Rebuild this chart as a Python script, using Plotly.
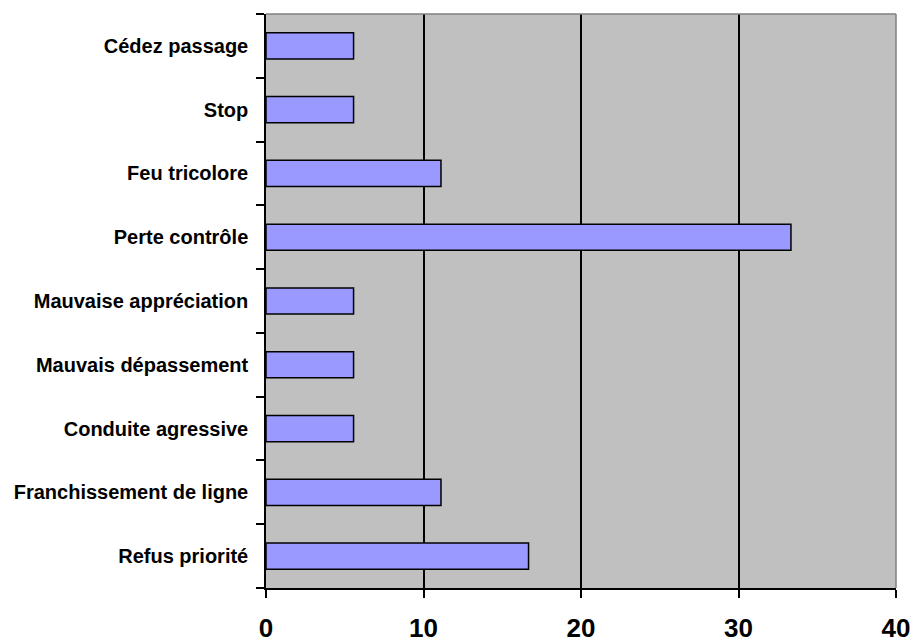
import plotly.graph_objects as go

categories = ["Refus priorité", "Franchissement de ligne", "Conduite agressive",
              "Mauvais dépassement", "Mauvaise appréciation", "Perte contrôle",
              "Feu tricolore", "Stop", "Cédez passage"]
values = [16.67, 11.11, 5.56, 5.56, 5.56, 33.33, 11.11, 5.56, 5.56]
x_ticks = [0, 10, 20, 30, 40]

font_family = "Arial, Liberation Sans, sans-serif"

fig = go.Figure(go.Bar(
    y=categories, x=values, orientation="h",
    marker=dict(color="#9999FF", line=dict(color="black", width=1.5)),
    width=0.41,
))

fig.update_layout(
    width=916, height=644,
    margin=dict(l=266, r=20, t=14, b=56, autoexpand=False),
    paper_bgcolor="white", plot_bgcolor="#C0C0C0",
    showlegend=False,
    font=dict(family=font_family, color="black"),
    xaxis=dict(range=[0, 40], tickvals=x_ticks, showgrid=True, gridcolor="black",
               gridwidth=1.5, showline=True, linecolor="black", linewidth=1.5,
               ticks="outside", ticklen=8, tickwidth=1.5, tickcolor="black",
               tickfont=dict(size=26, family=font_family, weight="bold"),
               zeroline=False, fixedrange=True, ticklabelstandoff=8,
               automargin=False),
    yaxis=dict(type="category", categoryorder="array", categoryarray=categories,
               showline=True, linecolor="black", linewidth=1.5,
               ticks="outside", tickson="boundaries", ticklen=8, tickwidth=1.5,
               tickcolor="black", showgrid=False,
               tickfont=dict(size=20, family=font_family, weight="bold"),
               ticklabelstandoff=12, fixedrange=True, automargin=False),
    shapes=[
        dict(type="line", xref="paper", yref="paper", x0=0, x1=1, y0=1, y1=1,
             line=dict(color="#808080", width=1.5)),
        dict(type="line", xref="paper", yref="paper", x0=1, x1=1, y0=0, y1=1,
             line=dict(color="#808080", width=1.5)),
    ],
)

fig.write_html("out.html", config={"displayModeBar": False},
               post_script="document.body.style.margin='0';document.body.style.overflow='hidden';")
